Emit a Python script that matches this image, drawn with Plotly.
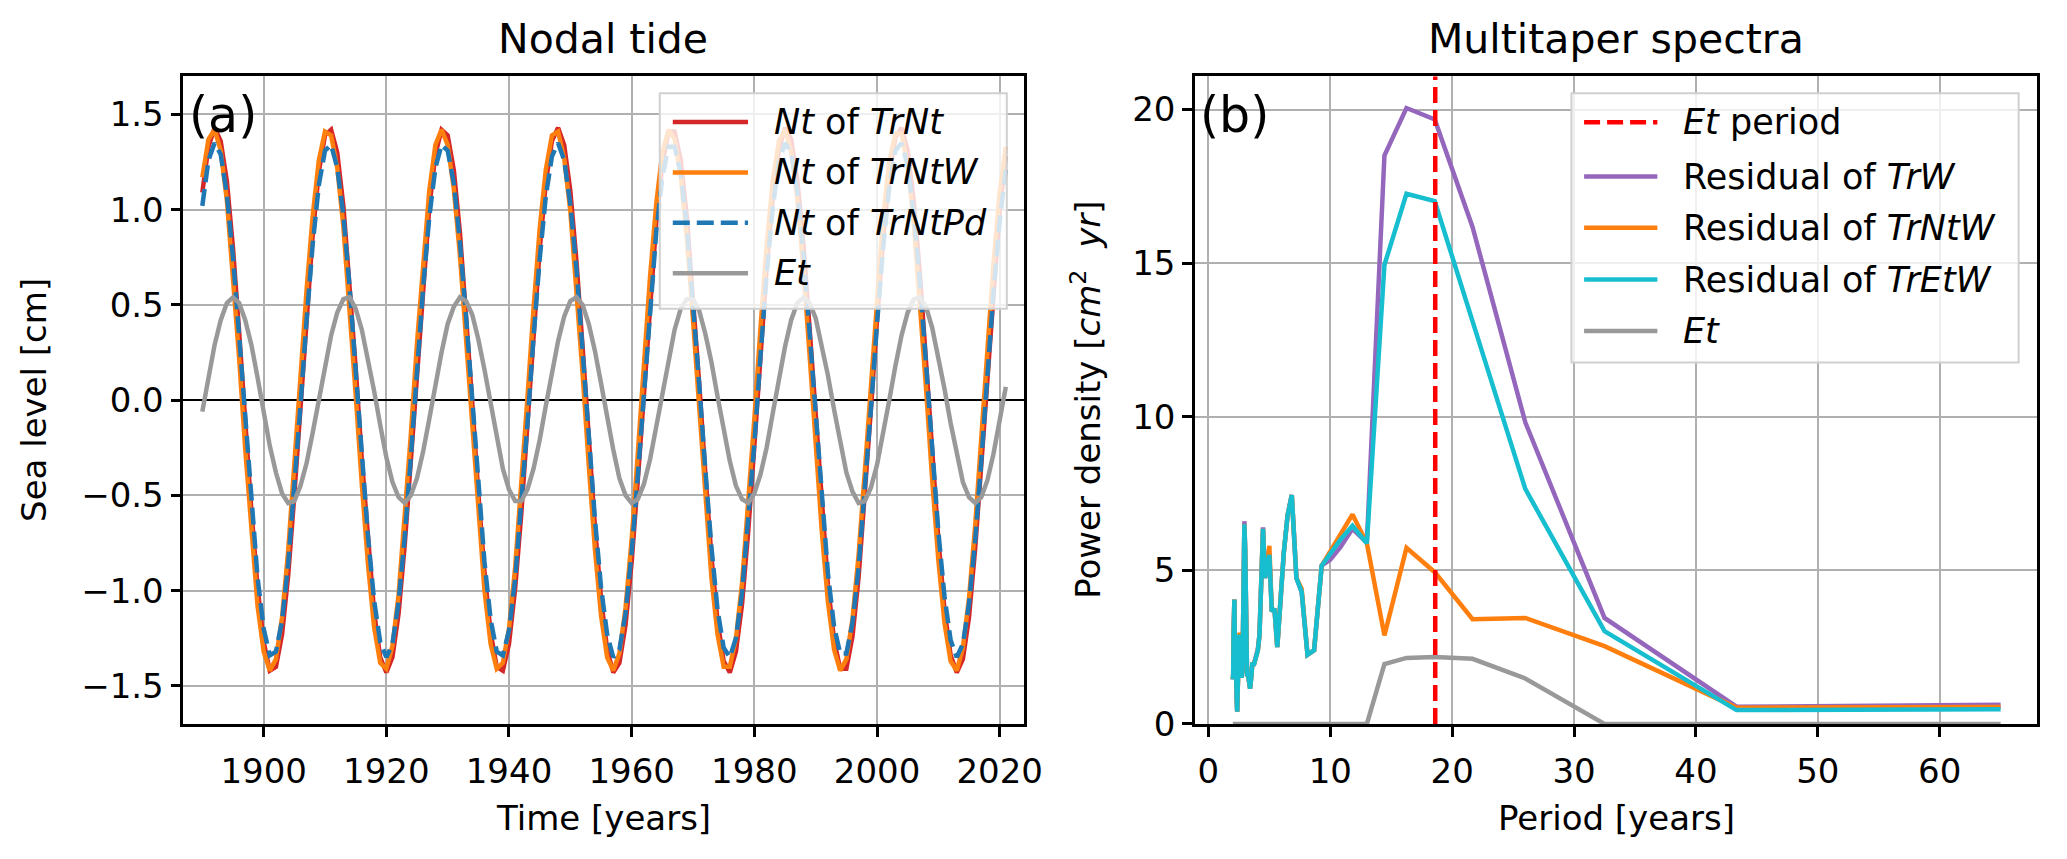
import plotly.graph_objects as go

# ---- panel (a): nodal tide, annual values 1890-2021 [cm]
YEARS = list(range(1890, 2022))

NT_TRNT = [
    1.09, 1.33, 1.43, 1.36, 1.15, 0.80, 0.36, -0.12, -0.58, -0.98,
    -1.27, -1.42, -1.40, -1.23, -0.92, -0.50, -0.03, 0.45, 0.87, 1.20,
    1.39, 1.42, 1.30, 1.02, 0.63, 0.17, -0.31, -0.75, -1.11, -1.35,
    -1.43, -1.35, -1.12, -0.76, -0.32, 0.16, 0.62, 1.01, 1.29, 1.42,
    1.39, 1.21, 0.88, 0.46, -0.01, -0.49, -0.90, -1.22, -1.40, -1.42,
    -1.28, -0.99, -0.60, -0.13, 0.34, 0.79, 1.14, 1.36, 1.43, 1.34,
    1.10, 0.73, 0.28, -0.20, -0.66, -1.04, -1.31, -1.43, -1.38, -1.18,
    -0.85, -0.42, 0.05, 0.52, 0.93, 1.24, 1.41, 1.41, 1.26, 0.96,
    0.56, 0.09, -0.38, -0.82, -1.16, -1.37, -1.43, -1.32, -1.07, -0.69,
    -0.24, 0.24, 0.69, 1.07, 1.32, 1.43, 1.37, 1.16, 0.82, 0.38,
    -0.09, -0.56, -0.97, -1.26, -1.41, -1.41, -1.24, -0.93, -0.52, -0.05,
    0.42, 0.85, 1.18, 1.38, 1.43, 1.31, 1.04, 0.66, 0.20, -0.28,
    -0.73, -1.10, -1.34, -1.43, -1.36, -1.14, -0.78, -0.34, 0.13, 0.60,
    1.00, 1.28]

NT_TRNTW = [
    1.17, 1.37, 1.42, 1.31, 1.05, 0.67, 0.22, -0.26, -0.71, -1.08,
    -1.32, -1.42, -1.36, -1.14, -0.79, -0.36, 0.12, 0.58, 0.97, 1.26,
    1.41, 1.39, 1.22, 0.91, 0.50, 0.03, -0.44, -0.86, -1.19, -1.38,
    -1.41, -1.29, -1.02, -0.63, -0.18, 0.30, 0.74, 1.10, 1.34, 1.42,
    1.34, 1.11, 0.76, 0.32, -0.16, -0.61, -1.00, -1.28, -1.41, -1.38,
    -1.20, -0.88, -0.46, 0.01, 0.48, 0.90, 1.21, 1.39, 1.41, 1.27,
    0.99, 0.60, 0.14, -0.34, -0.78, -1.13, -1.35, -1.42, -1.33, -1.09,
    -0.73, -0.28, 0.20, 0.65, 1.03, 1.30, 1.42, 1.37, 1.18, 0.85,
    0.42, -0.05, -0.52, -0.93, -1.23, -1.40, -1.40, -1.25, -0.96, -0.56,
    -0.10, 0.38, 0.81, 1.15, 1.36, 1.42, 1.31, 1.06, 0.69, 0.24,
    -0.24, -0.69, -1.06, -1.31, -1.42, -1.36, -1.15, -0.81, -0.38, 0.09,
    0.56, 0.96, 1.25, 1.40, 1.40, 1.23, 0.93, 0.52, 0.06, -0.42,
    -0.84, -1.17, -1.37, -1.42, -1.30, -1.04, -0.66, -0.20, 0.28, 0.72,
    1.09, 1.33]

NT_TRNTPD = [
    1.02, 1.26, 1.35, 1.29, 1.08, 0.75, 0.34, -0.11, -0.55, -0.93,
    -1.20, -1.34, -1.32, -1.16, -0.86, -0.47, -0.03, 0.42, 0.82, 1.13,
    1.31, 1.34, 1.22, 0.97, 0.60, 0.16, -0.29, -0.71, -1.05, -1.27,
    -1.35, -1.28, -1.06, -0.72, -0.30, 0.15, 0.59, 0.96, 1.22, 1.34,
    1.31, 1.14, 0.83, 0.44, -0.01, -0.46, -0.85, -1.15, -1.32, -1.34,
    -1.21, -0.94, -0.56, -0.13, 0.33, 0.74, 1.07, 1.28, 1.35, 1.26,
    1.03, 0.69, 0.26, -0.19, -0.62, -0.98, -1.23, -1.35, -1.31, -1.12,
    -0.80, -0.40, 0.05, 0.49, 0.88, 1.17, 1.33, 1.33, 1.19, 0.91,
    0.53, 0.09, -0.36, -0.77, -1.10, -1.30, -1.35, -1.25, -1.01, -0.65,
    -0.23, 0.23, 0.66, 1.01, 1.25, 1.35, 1.30, 1.10, 0.77, 0.36,
    -0.09, -0.53, -0.91, -1.19, -1.33, -1.33, -1.17, -0.88, -0.49, -0.05,
    0.40, 0.80, 1.12, 1.31, 1.35, 1.23, 0.98, 0.62, 0.19, -0.27,
    -0.69, -1.03, -1.26, -1.35, -1.28, -1.07, -0.74, -0.32, 0.13, 0.57,
    0.94, 1.21]

ET = [
    -0.06, 0.12, 0.29, 0.42, 0.51, 0.54, 0.51, 0.42, 0.29, 0.12,
    -0.06, -0.24, -0.38, -0.49, -0.54, -0.53, -0.45, -0.33, -0.17, 0.01,
    0.19, 0.34, 0.46, 0.53, 0.54, 0.48, 0.37, 0.22, 0.05, -0.13,
    -0.30, -0.43, -0.51, -0.54, -0.50, -0.41, -0.27, -0.10, 0.08, 0.25,
    0.40, 0.49, 0.54, 0.52, 0.45, 0.32, 0.16, -0.02, -0.20, -0.36,
    -0.47, -0.53, -0.53, -0.47, -0.36, -0.21, -0.03, 0.15, 0.31, 0.44,
    0.52, 0.54, 0.50, 0.40, 0.26, 0.09, -0.09, -0.26, -0.41, -0.50,
    -0.54, -0.52, -0.44, -0.31, -0.14, 0.04, 0.21, 0.37, 0.48, 0.53,
    0.53, 0.47, 0.35, 0.20, 0.02, -0.16, -0.32, -0.45, -0.52, -0.54,
    -0.49, -0.39, -0.25, -0.07, 0.11, 0.28, 0.42, 0.51, 0.54, 0.51,
    0.43, 0.29, 0.13, -0.05, -0.23, -0.38, -0.48, -0.54, -0.53, -0.46,
    -0.34, -0.18, 0.00, 0.18, 0.34, 0.46, 0.53, 0.54, 0.49, 0.38,
    0.23, 0.06, -0.12, -0.29, -0.43, -0.51, -0.54, -0.51, -0.42, -0.28,
    -0.11, 0.07]

# ---- panel (b): multitaper spectra [cm^2 yr] against period [years]
PERIOD = [
    2.00, 2.03, 2.06, 2.10, 2.13, 2.17, 2.20, 2.24, 2.28, 2.32,
    2.36, 2.41, 2.45, 2.50, 2.55, 2.60, 2.65, 2.71, 2.77, 2.83,
    2.89, 2.95, 3.02, 3.10, 3.17, 3.25, 3.33, 3.42, 3.51, 3.61,
    3.71, 3.82, 3.94, 4.06, 4.19, 4.33, 4.48, 4.64, 4.81, 5.00,
    5.20, 5.42, 5.65, 5.91, 6.19, 6.50, 6.84, 7.22, 7.65, 8.13,
    8.67, 9.29, 10.00, 10.83, 11.82, 13.00, 14.44, 16.25, 18.57, 21.67,
    26.00, 32.50, 43.33, 65.00]

RES_TRW = [
    1.45, 1.60, 2.90, 3.60, 4.05, 2.50, 1.60, 2.90, 1.50, 0.80,
    0.40, 1.20, 2.10, 2.90, 2.70, 2.90, 2.20, 1.50, 1.70, 2.80,
    4.60, 6.60, 5.60, 3.20, 1.55, 1.60, 1.40, 1.15, 1.50, 2.00,
    1.90, 2.05, 2.30, 2.45, 2.90, 4.80, 6.40, 4.75, 5.10, 5.50,
    3.66, 3.75, 2.50, 4.20, 5.60, 6.80, 7.45, 4.75, 4.30, 2.25,
    2.40, 5.15, 5.35, 5.75, 6.35, 5.90, 18.50, 20.05, 19.68, 16.18,
    9.82, 3.45, 0.56, 0.62]

RES_TRNTW = [
    1.45, 1.60, 3.00, 3.60, 4.05, 2.50, 1.60, 2.90, 1.50, 0.80,
    0.40, 1.20, 2.10, 2.90, 2.90, 2.90, 2.20, 1.50, 1.70, 2.80,
    4.60, 6.50, 5.60, 3.20, 1.55, 1.60, 1.40, 1.15, 1.50, 2.00,
    1.90, 2.05, 2.16, 2.40, 2.90, 4.80, 6.35, 4.75, 5.20, 5.80,
    3.66, 3.75, 2.50, 4.20, 5.60, 6.80, 7.45, 4.75, 4.40, 2.25,
    2.40, 5.15, 5.62, 6.18, 6.82, 5.88, 2.88, 5.73, 4.94, 3.41,
    3.45, 2.53, 0.53, 0.55]

RES_TRETW = [
    1.45, 1.60, 2.90, 3.60, 4.05, 2.50, 1.60, 2.90, 1.50, 0.80,
    0.40, 1.20, 2.10, 2.90, 2.70, 2.90, 2.20, 1.50, 1.70, 2.80,
    4.60, 6.50, 5.60, 3.20, 1.55, 1.60, 1.40, 1.15, 1.50, 2.00,
    1.90, 2.05, 2.16, 2.40, 2.90, 4.80, 6.35, 4.75, 5.10, 5.50,
    3.66, 3.75, 2.50, 4.20, 5.60, 6.80, 7.45, 4.75, 4.30, 2.25,
    2.40, 5.15, 5.55, 6.00, 6.45, 5.88, 14.94, 17.26, 17.02, 13.10,
    7.65, 3.02, 0.45, 0.48]

ET_SPEC = [
    0.0, 0.0, 0.0, 0.0, 0.0, 0.0, 0.0, 0.0, 0.0, 0.0,
    0.0, 0.0, 0.0, 0.0, 0.0, 0.0, 0.0, 0.0, 0.0, 0.0,
    0.0, 0.0, 0.0, 0.0, 0.0, 0.0, 0.0, 0.0, 0.0, 0.0,
    0.0, 0.0, 0.0, 0.0, 0.0, 0.0, 0.0, 0.0, 0.0, 0.0,
    0.0, 0.0, 0.0, 0.0, 0.0, 0.0, 0.0, 0.0, 0.0, 0.0,
    0.0, 0.0, 0.0, 0.0, 0.0, 0.0, 1.95, 2.15, 2.18, 2.12,
    1.48, 0.0, 0.0, 0.0]

ET_PERIOD = 18.61

RED = '#d62728'
ORANGE = '#ff7f0e'
BLUE = '#1f77b4'
GREY = '#999999'
PURPLE = '#9467bd'
CYAN = '#17becf'
FONT = 'DejaVu Sans'
LW = 4.5
TICK = 34

fig = go.Figure()

# left panel
fig.add_trace(go.Scatter(x=YEARS, y=NT_TRNT, mode='lines', line=dict(color=RED, width=LW),
                         xaxis='x', yaxis='y'))
fig.add_trace(go.Scatter(x=YEARS, y=NT_TRNTW, mode='lines', line=dict(color=ORANGE, width=LW),
                         xaxis='x', yaxis='y'))
fig.add_trace(go.Scatter(x=YEARS, y=NT_TRNTPD, mode='lines',
                         line=dict(color=BLUE, width=LW, dash='17px,7px'),
                         xaxis='x', yaxis='y'))
fig.add_trace(go.Scatter(x=YEARS, y=ET, mode='lines', line=dict(color=GREY, width=LW),
                         xaxis='x', yaxis='y'))

# right panel
fig.add_trace(go.Scatter(x=PERIOD, y=RES_TRW, mode='lines', line=dict(color=PURPLE, width=LW),
                         xaxis='x2', yaxis='y2'))
fig.add_trace(go.Scatter(x=PERIOD, y=RES_TRNTW, mode='lines', line=dict(color=ORANGE, width=LW),
                         xaxis='x2', yaxis='y2'))
fig.add_trace(go.Scatter(x=PERIOD, y=RES_TRETW, mode='lines', line=dict(color=CYAN, width=LW),
                         xaxis='x2', yaxis='y2'))
fig.add_trace(go.Scatter(x=PERIOD, y=ET_SPEC, mode='lines', line=dict(color=GREY, width=LW),
                         xaxis='x2', yaxis='y2'))

fig.add_shape(type='line', xref='x2', yref='y2 domain', x0=ET_PERIOD, x1=ET_PERIOD, y0=0, y1=1,
              line=dict(color='#ff0000', width=LW, dash='16px,7px'))

axis_style = dict(
    showline=True, linecolor='black', linewidth=2.5, mirror=True,
    ticks='outside', ticklen=10, tickwidth=2.5, tickcolor='black',
    showgrid=True, gridcolor='#b0b0b0', gridwidth=2.4,
    zeroline=False, tickfont=dict(family=FONT, size=TICK, color='black'),
)

fig.update_layout(
    width=2067, height=859, autosize=False,
    margin=dict(l=0, r=0, t=0, b=0),
    paper_bgcolor='white', plot_bgcolor='white',
    showlegend=False,
    font=dict(family=FONT, color='black'),
    xaxis=dict(domain=[0.0856, 0.4959], anchor='y', range=[1886.9, 2023.9],
               tick0=1900, dtick=20, ticklabelstandoff=6, **axis_style),
    yaxis=dict(domain=[0.1467, 0.9185], anchor='x', range=[-1.7, 1.7],
               dtick=0.5, tickformat='.1f', **axis_style),
    xaxis2=dict(domain=[0.5796, 0.9908], anchor='y2', range=[-1.1, 68.0],
                tick0=0, dtick=10, ticklabelstandoff=6, **axis_style),
    yaxis2=dict(domain=[0.1467, 0.9185], anchor='x2', range=[0, 21.08],
                tick0=0, dtick=5, **axis_style),
)
# black zero line on the left panel
fig.update_yaxes(selector=dict(anchor='x'), zeroline=True, zerolinecolor='black', zerolinewidth=2)


def text(x, y, s, size=TICK, xref='paper', yref='paper', xanchor='center', angle=0):
    fig.add_annotation(x=x, y=y, xref=xref, yref=yref, text=s, showarrow=False,
                       xanchor=xanchor, yanchor='middle', textangle=angle,
                       font=dict(family=FONT, size=size, color='black'))


# titles, axis labels, panel letters
text(0.5, 0.9630, 'Nodal tide', size=41, xref='x domain')
text(0.5, 0.9630, 'Multitaper spectra', size=41, xref='x2 domain')
text(0.5, 0.0350, 'Time [years]', xref='x domain')
text(0.5, 0.0350, 'Period [years]', xref='x2 domain')
text(0.0126, 0.5, 'Sea level [cm]', yref='y domain', angle=-90)
text(0.5262, 0.5, 'Power density [<i>cm</i><sup>2</sup>\u00a0\u00a0<i>yr</i>]', yref='y2 domain', angle=-90)
text(0.004, 0.94, '(a)', size=49, xref='x domain', yref='y domain', xanchor='left')
text(0.004, 0.94, '(b)', size=49, xref='x2 domain', yref='y2 domain', xanchor='left')


def legend(xr, yr, box, rows, xl, xt):
    fig.add_shape(type='rect', xref=xr, yref=yr, x0=box[0], x1=box[1], y0=box[2], y1=box[3],
                  fillcolor='rgba(255,255,255,0.8)', line=dict(color='#d0d0d0', width=2),
                  layer='above')
    for y, (color, dash, label) in rows:
        fig.add_shape(type='line', xref=xr, yref=yr, x0=xl[0], x1=xl[1], y0=y, y1=y,
                      line=dict(color=color, width=LW, dash=dash), layer='above')
        text(xt, y, label, size=35, xref=xr, yref=yr, xanchor='left')


legend('x domain', 'y domain', (0.567, 0.980, 0.641, 0.974),
       zip([0.9296, 0.8517, 0.7738, 0.6958],
           [(RED, 'solid', '<i>Nt</i> of <i>TrNt</i>'),
            (ORANGE, 'solid', '<i>Nt</i> of <i>TrNtW</i>'),
            (BLUE, '17px,7px', '<i>Nt</i> of <i>TrNtPd</i>'),
            (GREY, 'solid', '<i>Et</i>')]),
       (0.5825, 0.672), 0.700)

legend('x2 domain', 'y2 domain', (0.447, 0.978, 0.558, 0.974),
       zip([0.9291, 0.8452, 0.7662, 0.6863, 0.6068],
           [('#ff0000', '16px,7px', '<i>Et</i> period'),
            (PURPLE, 'solid', 'Residual of <i>TrW</i>'),
            (ORANGE, 'solid', 'Residual of <i>TrNtW</i>'),
            (CYAN, 'solid', 'Residual of <i>TrEtW</i>'),
            (GREY, 'solid', '<i>Et</i>')]),
       (0.462, 0.549), 0.577)

fig.write_html("out.html")
